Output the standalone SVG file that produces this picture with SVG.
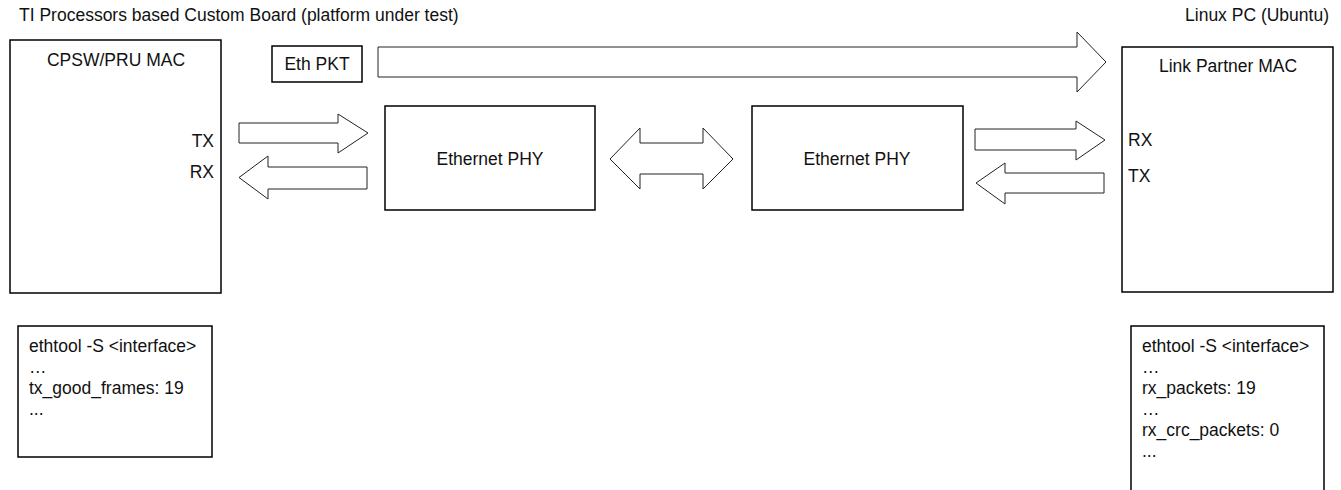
<svg xmlns="http://www.w3.org/2000/svg" width="1341" height="490" viewBox="0 0 1341 490">
<style>
.box{fill:#fff;stroke:#000;stroke-width:1.5}
.arr{fill:#fff;stroke:#222;stroke-width:1}
text{font-family:"Liberation Sans",Arial,sans-serif;font-size:17.5px;fill:#111}
.c{text-anchor:middle}
.e{text-anchor:end}
</style>
<rect width="1341" height="490" fill="#fff"/>
<text id="title-left" x="19" y="21">TI Processors based Custom Board (platform under test)</text>
<text id="title-right" class="e" x="1329" y="21">Linux PC (Ubuntu)</text>
<g id="cpsw-mac">
<rect class="box" x="10" y="40" width="211" height="253"/>
<text class="c" x="116" y="66">CPSW/PRU MAC</text>
<text class="e" x="214" y="147">TX</text>
<text class="e" x="214" y="178">RX</text>
</g>
<g id="eth-pkt">
<rect class="box" x="272" y="46" width="90" height="36"/>
<text class="c" x="317" y="70">Eth PKT</text>
</g>
<g id="phy-left">
<rect class="box" x="385" y="106" width="210" height="104"/>
<text class="c" x="490" y="165">Ethernet PHY</text>
</g>
<g id="phy-right">
<rect class="box" x="752" y="106" width="211" height="104"/>
<text class="c" x="857" y="165">Ethernet PHY</text>
</g>
<g id="link-partner-mac">
<rect class="box" x="1122" y="47" width="211" height="245"/>
<text class="c" x="1228" y="72">Link Partner MAC</text>
<text x="1128" y="146">RX</text>
<text x="1128" y="182">TX</text>
</g>
<g id="stats-left">
<rect class="box" x="18" y="326" width="194" height="131"/>
<text x="29" y="352">ethtool -S &lt;interface&gt;</text>
<text x="29" y="373">…</text>
<text x="29" y="394">tx_good_frames: 19</text>
<text x="29" y="415">...</text>
</g>
<g id="stats-right">
<rect class="box" x="1131" y="326" width="193" height="180"/>
<text x="1142" y="352">ethtool -S &lt;interface&gt;</text>
<text x="1142" y="373">…</text>
<text x="1142" y="394">rx_packets: 19</text>
<text x="1142" y="415">…</text>
<text x="1142" y="436">rx_crc_packets: 0</text>
<text x="1142" y="457">...</text>
</g>
<g id="connectors">
<polygon class="arr" points="378,47 1077,47 1077,32 1106,62 1077,92 1077,77 378,77"/>
<polygon class="arr" points="239,123 338,123 338,114 368,133 338,153 338,143 239,143"/>
<polygon class="arr" points="367,167 268,167 268,156 239,177.5 268,199 268,189 367,189"/>
<polygon class="arr" points="610,159 640,128 640,143 703,143 703,128 733,159 703,189 703,174 640,174 640,189"/>
<polygon class="arr" points="975,129 1076,129 1076,121 1105,140 1076,160 1076,150 975,150"/>
<polygon class="arr" points="1104,173 1005,173 1005,163 976,183 1005,204 1005,193 1104,193"/>
</g>
</svg>
